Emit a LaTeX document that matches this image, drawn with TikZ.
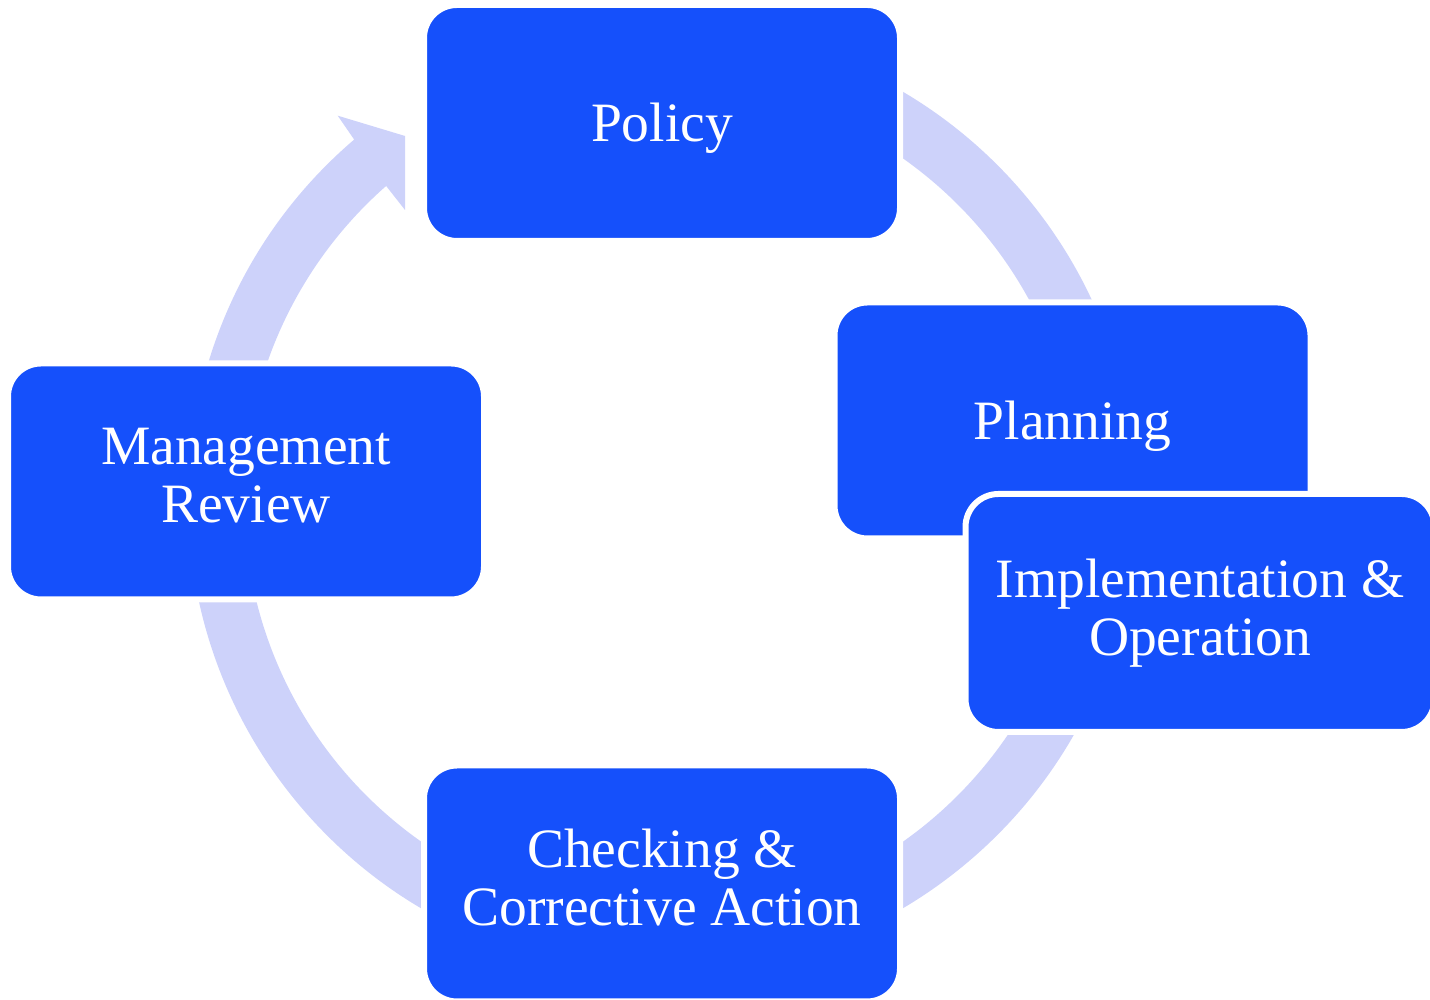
\documentclass[tikz,border=0pt]{standalone}
\usepackage{fontspec}
\setmainfont{Liberation Serif}
\usepackage{tikz}

\definecolor{boxblue}{RGB}{21,80,251}
\definecolor{ringblue}{RGB}{205,210,250}

\begin{document}
\begin{tikzpicture}
   \path[use as bounding box,clip] (0,0) rectangle (14.3,10);
   \begin{scope}[shift={(6.62,5)}]
    \fill[ringblue] (130.5:4.74) arc[start angle=130.5,end angle=460,radius=4.74]
       -- (100:4.18) arc[start angle=460,end angle=131.3,radius=4.18]
       -- (-2.57,2.90) -- (-2.57,3.64) -- (-3.243,3.843) -- cycle;
   \end{scope}
   \begin{scope}[every node/.style={rectangle,rounded corners=0.33cm,fill=boxblue,draw=white,
      line width=0.06cm,minimum width=4.76cm,minimum height=2.36cm,inner sep=0pt,
      text=white,align=center,font=\fontsize{15.8}{16.4}\selectfont,
      execute at begin node=\rule{0pt}{0.891em},
      execute at end node=\rule[-0.216em]{0pt}{0.216em}}]
    \node (b1) at (6.62,8.77) {Policy};
    \node (b2) at (10.725,5.795) {Planning};
    \node[minimum width=4.69cm,minimum height=2.38cm] (b3) at (12.0,3.87) {Implementation \&\\Operation};
    \node (b4) at (6.62,1.165) {Checking \&\\Corrective Action};
    \node (b5) at (2.46,5.185) {Management\\Review};
   \end{scope}
\end{tikzpicture}
\end{document}
